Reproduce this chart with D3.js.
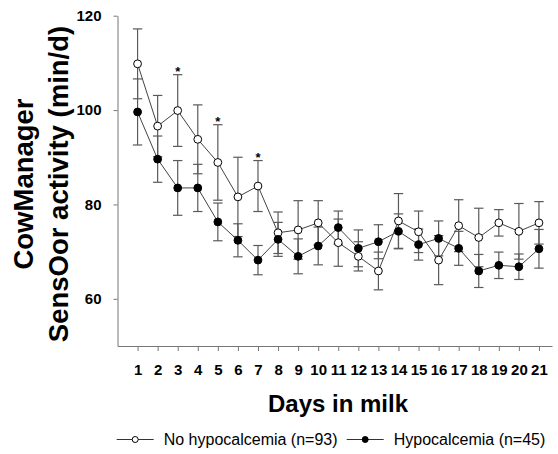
<!DOCTYPE html>
<html>
<head>
<meta charset="utf-8">
<script src="https://cdn.jsdelivr.net/npm/d3@7"></script>
<style>
  body { margin: 0; background: #fff; }
  svg { display: block; font-family: "Liberation Sans", Arial, sans-serif; }
</style>
</head>
<body>
<div id="chart"></div>
<script>
// data
var days = [1, 2, 3, 4, 5, 6, 7, 8, 9, 10, 11, 12, 13, 14, 15, 16, 17, 18, 19, 20, 21];
var noHypoMean = [109.8, 96.6, 99.9, 93.8, 88.9, 81.6, 83.9, 74.0, 74.6, 76.1, 71.9, 69.0, 65.9, 76.5, 74.2, 68.2, 75.5, 73.0, 76.1, 74.3, 76.1];
var noHypoErr = [7.4, 6.5, 7.6, 7.3, 8.0, 8.4, 5.4, 4.4, 6.2, 4.7, 5.0, 3.1, 4.0, 5.8, 4.4, 5.2, 5.5, 6.2, 2.8, 5.9, 4.5];
var hypoMean = [99.6, 89.6, 83.5, 83.5, 76.3, 72.4, 68.2, 72.6, 69.0, 71.2, 75.1, 70.7, 72.1, 74.3, 71.5, 72.8, 70.7, 65.9, 67.1, 66.8, 70.6];
var hypoErr = [7.0, 4.9, 5.8, 5.0, 4.0, 3.5, 3.1, 3.6, 3.7, 4.0, 3.5, 3.9, 3.6, 3.7, 3.3, 3.7, 3.6, 3.5, 2.8, 2.7, 4.1];
var starDays = [3, 5, 7];
var yTicks = [60, 80, 100, 120];
var seriesNames = ['No hypocalcemia (n=93)', 'Hypocalcemia (n=45)'];

function Chart(){
    this.sizes = {width: 558, height: 454};
    this.x = d3.scaleLinear().domain([0, 21.65]).range([117.5, 552]);
    this.y = d3.scaleLinear().domain([50, 120]).range([346, 15.7]);
}

Chart.prototype.make_svg = function(){
    this.svg = d3.select('#chart').append('svg')
        .attr('width', this.sizes.width)
        .attr('height', this.sizes.height);
};

Chart.prototype.axes = function(){
    var svg = this.svg, x = this.x, y = this.y;

    var ax = svg.append('g')
        .attr('transform', 'translate(0,346)')
        .call(d3.axisBottom(x).tickValues(days).tickSize(5).tickSizeOuter(0).tickPadding(13));
    ax.select('.domain').attr('stroke', '#777');
    ax.selectAll('.tick line').attr('stroke', '#777');
    ax.selectAll('.tick text')
        .attr('fill', '#000')
        .attr('font-size', 15)
        .attr('font-weight', 'bold')
        .attr('font-family', '"Liberation Sans", Arial, sans-serif');

    var ay = svg.append('g')
        .attr('transform', 'translate(117.5,0)')
        .call(d3.axisLeft(y).tickValues(yTicks).tickSize(4).tickSizeOuter(0).tickPadding(12));
    ay.select('.domain').attr('stroke', '#777');
    ay.selectAll('.tick line').attr('stroke', '#777');
    ay.selectAll('.tick text')
        .attr('fill', '#000')
        .attr('font-size', 15)
        .attr('font-weight', 'bold')
        .attr('font-family', '"Liberation Sans", Arial, sans-serif');

    // axis titles
    svg.append('text')
        .attr('x', 338)
        .attr('y', 412)
        .attr('text-anchor', 'middle')
        .attr('font-size', 24)
        .attr('font-weight', 'bold')
        .text('Days in milk');

    var yt = svg.append('text')
        .attr('transform', 'translate(0,184) rotate(-90)')
        .attr('text-anchor', 'middle')
        .attr('font-size', 27.5)
        .attr('font-weight', 'bold');
    yt.append('tspan').attr('x', 0).attr('y', 33).text('CowManager');
    yt.append('tspan').attr('x', 0).attr('y', 68).text('SensOor activity (min/d)');
};

Chart.prototype.series = function(mean, err, filled){
    var x = this.x, y = this.y;
    var rows = days.map(function(d, i){ return {day: d, m: mean[i], e: err[i]}; });
    var g = this.svg.append('g');

    var bars = g.selectAll('.bar').data(rows).enter().append('g')
        .attr('stroke', '#5a5a5a').attr('stroke-width', 1.2);
    bars.append('line')
        .attr('x1', function(d){ return x(d.day); })
        .attr('x2', function(d){ return x(d.day); })
        .attr('y1', function(d){ return y(d.m + d.e); })
        .attr('y2', function(d){ return y(d.m - d.e); });
    bars.append('line')
        .attr('x1', function(d){ return x(d.day) - 4.7; })
        .attr('x2', function(d){ return x(d.day) + 4.7; })
        .attr('y1', function(d){ return y(d.m + d.e); })
        .attr('y2', function(d){ return y(d.m + d.e); });
    bars.append('line')
        .attr('x1', function(d){ return x(d.day) - 4.7; })
        .attr('x2', function(d){ return x(d.day) + 4.7; })
        .attr('y1', function(d){ return y(d.m - d.e); })
        .attr('y2', function(d){ return y(d.m - d.e); });

    g.append('path')
        .datum(rows)
        .attr('fill', 'none')
        .attr('stroke', '#444')
        .attr('stroke-width', 1)
        .attr('d', d3.line().x(function(d){ return x(d.day); }).y(function(d){ return y(d.m); }));

    this.dots = this.dots || [];
    this.dots.push({rows: rows, filled: filled});
};

Chart.prototype.points = function(){
    var x = this.x, y = this.y, svg = this.svg;
    this.dots.forEach(function(s){
        svg.append('g').selectAll('circle').data(s.rows).enter().append('circle')
            .attr('cx', function(d){ return x(d.day); })
            .attr('cy', function(d){ return y(d.m); })
            .attr('r', 3.9)
            .attr('fill', s.filled ? '#000' : '#fff')
            .attr('stroke', '#000')
            .attr('stroke-width', 1);
    });
};

Chart.prototype.stars = function(){
    var x = this.x, y = this.y;
    this.svg.selectAll('.star').data(starDays).enter().append('text')
        .attr('class', 'star')
        .attr('x', function(d){ return x(d); })
        .attr('y', function(d){ var i = days.indexOf(d); return y(noHypoMean[i] + noHypoErr[i]) + 1; })
        .attr('text-anchor', 'middle')
        .attr('font-size', 13)
        .attr('font-weight', 'bold')
        .text('*');
};

Chart.prototype.legend = function(){
    var svg = this.svg;
    var items = [
        {name: seriesNames[0], x0: 116.7, filled: false},
        {name: seriesNames[1], x0: 346.7, filled: true}
    ];
    items.forEach(function(it){
        var g = svg.append('g').attr('transform', 'translate(' + it.x0 + ',439.5)');
        g.append('line').attr('x1', 0).attr('x2', 37).attr('y1', 0).attr('y2', 0)
            .attr('stroke', '#333').attr('stroke-width', 1);
        g.append('circle').attr('cx', 18.5).attr('cy', 0).attr('r', 3)
            .attr('fill', it.filled ? '#000' : '#fff').attr('stroke', '#000');
        g.append('text').attr('x', 47).attr('y', 5.5)
            .attr('font-size', 16)
            .text(it.name);
    });
};

Chart.prototype.runit = function(){
    this.make_svg();
    this.axes();
    this.series(noHypoMean, noHypoErr, false);
    this.series(hypoMean, hypoErr, true);
    this.points();
    this.stars();
    this.legend();
};

var chart = new Chart();
chart.runit();
</script>
</body>
</html>
